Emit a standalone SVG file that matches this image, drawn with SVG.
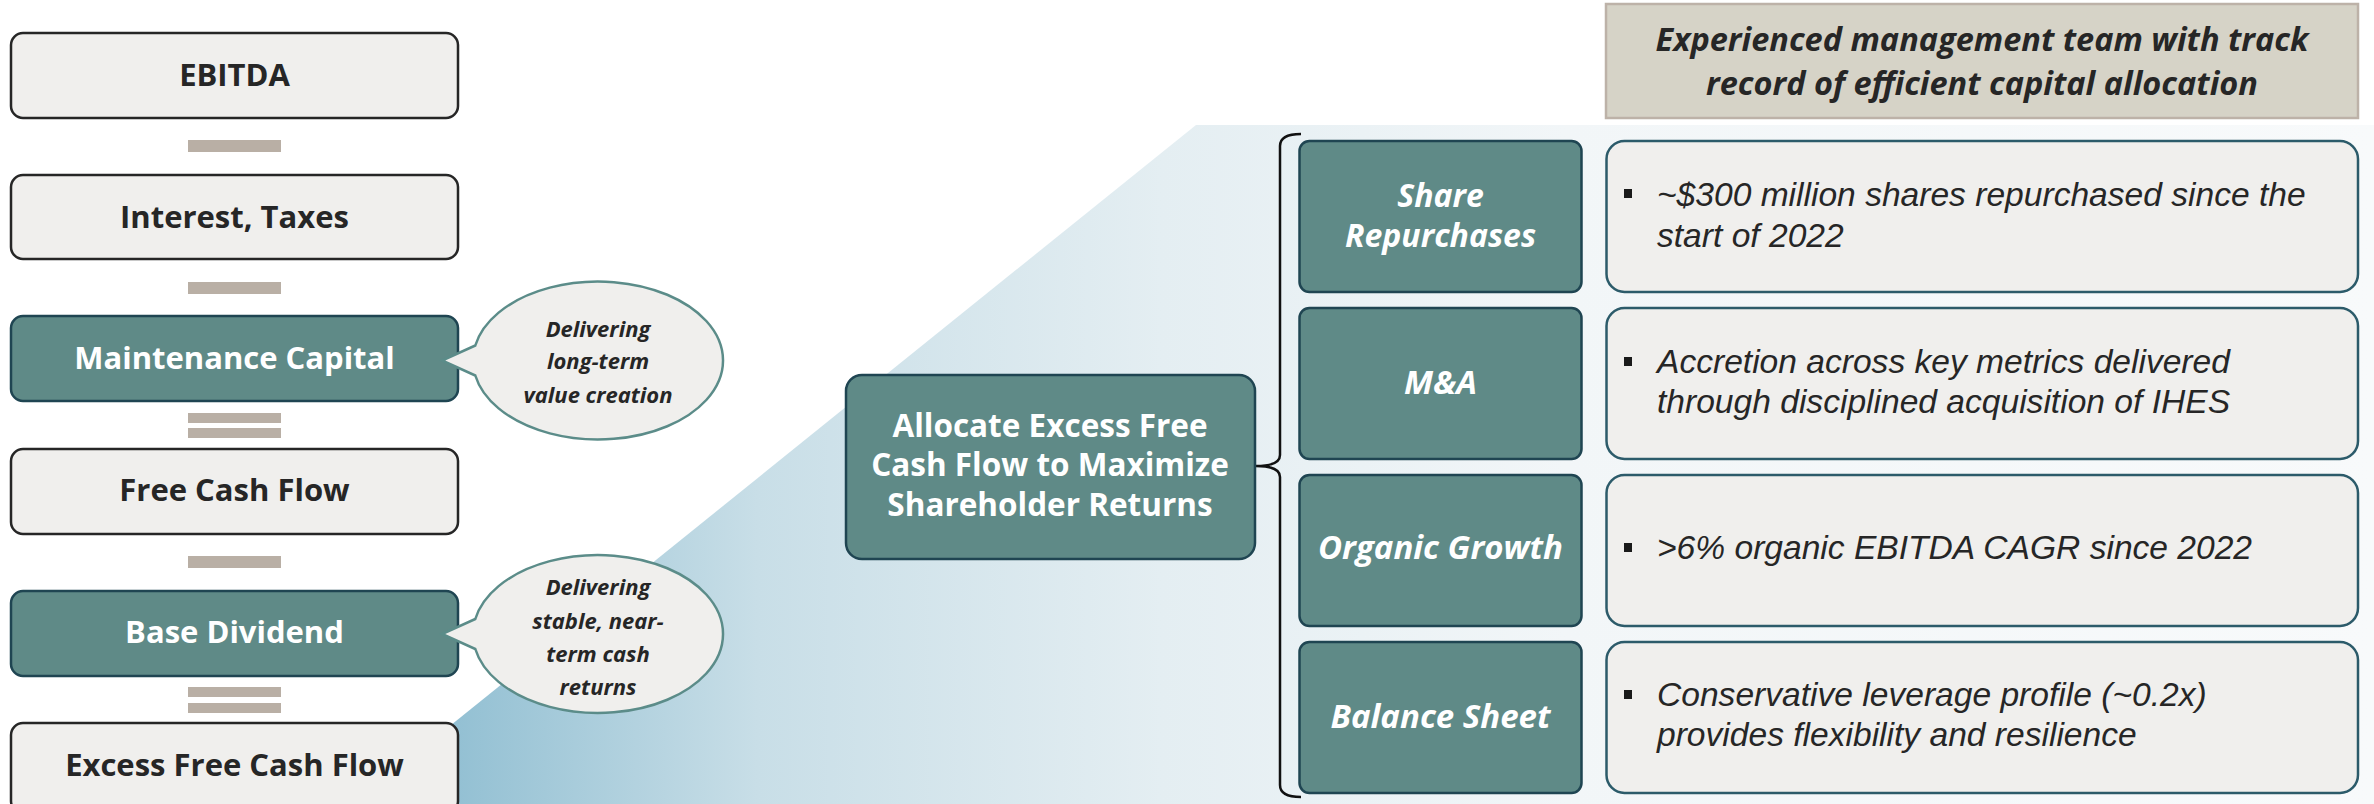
<svg xmlns="http://www.w3.org/2000/svg" width="2374" height="804" viewBox="0 0 2374 804">
<defs>
<linearGradient id="bg" gradientUnits="userSpaceOnUse" x1="353" y1="0" x2="2374" y2="0">
<stop offset="0" stop-color="#7fb4ca"/>
<stop offset="0.05" stop-color="#93c0d3"/>
<stop offset="0.2" stop-color="#c8dee7"/>
<stop offset="0.4" stop-color="#e4eef2"/>
<stop offset="0.6" stop-color="#f2f6f8"/>
<stop offset="1" stop-color="#f8fafb"/>
</linearGradient>
<style>
.lb{fill:#f0efed;stroke:#262626;stroke-width:2.5}
.tb{fill:#5f8a87;stroke:#1f4552;stroke-width:2.5}
.cb{fill:#f0efed;stroke:#2c5b6a;stroke-width:2.5}
.bar{fill:#b9afa5}
.bub{fill:#f0efed;stroke:#5b8c89;stroke-width:2.5}
.t{font-family:"Open Sans","Liberation Sans",sans-serif;font-weight:bold;text-anchor:middle}
.dk{fill:#262626}
.wh{fill:#ffffff}
.bi{font-family:"Open Sans","Liberation Sans",sans-serif;font-weight:bold;font-style:italic;text-anchor:middle}
.it{font-family:"Liberation Sans","Open Sans",sans-serif;font-style:italic;fill:#262626;font-size:33.6px}
.sq{fill:#1a1a1a}
</style>
</defs>
<rect x="0" y="0" width="2374" height="804" fill="#ffffff"/>
<polygon points="353,804 1196,125 2374,125 2374,804" fill="url(#bg)"/>

<g id="connectors">
<rect class="bar" x="188" y="140" width="93" height="12"/>
<rect class="bar" x="188" y="282" width="93" height="12"/>
<rect class="bar" x="188" y="413" width="93" height="10"/>
<rect class="bar" x="188" y="428" width="93" height="10"/>
<rect class="bar" x="188" y="556" width="93" height="12"/>
<rect class="bar" x="188" y="687" width="93" height="10"/>
<rect class="bar" x="188" y="703" width="93" height="10"/>
<path d="M1301,134 Q1280,134 1280,146 L1280,455 Q1280,466 1256,466 Q1280,466 1280,477 L1280,785 Q1280,797 1301,797" fill="none" stroke="#111111" stroke-width="2.5"/>
</g>

<g id="ebitda">
<rect class="lb" x="11" y="33" width="447" height="85" rx="12"/>
<text class="t dk" x="234.5" y="86" font-size="31">EBITDA</text>
</g>
<g id="interest-taxes">
<rect class="lb" x="11" y="175" width="447" height="84" rx="12"/>
<text class="t dk" x="234.5" y="228" font-size="31">Interest, Taxes</text>
</g>
<g id="maintenance-capital">
<rect class="tb" x="11" y="316" width="447" height="85" rx="12"/>
<text class="t wh" x="234.5" y="369" font-size="31">Maintenance Capital</text>
</g>
<g id="free-cash-flow">
<rect class="lb" x="11" y="449" width="447" height="85" rx="12"/>
<text class="t dk" x="234.5" y="501" font-size="31">Free Cash Flow</text>
</g>
<g id="base-dividend">
<rect class="tb" x="11" y="591" width="447" height="85" rx="12"/>
<text class="t wh" x="234.5" y="643" font-size="31">Base Dividend</text>
</g>
<g id="excess-free-cash-flow">
<rect class="lb" x="11" y="723" width="447" height="90" rx="12"/>
<text class="t dk" x="234.5" y="776" font-size="31">Excess Free Cash Flow</text>
</g>

<g id="bubble-long-term">
<path class="bub" d="M475.3,345.5 L442,360.5 L475.3,375.5 A125,79 0 1 0 475.3,345.5 Z"/>
<text class="bi dk" font-size="22" x="598" y="337">Delivering</text>
<text class="bi dk" font-size="22" x="598" y="369">long-term</text>
<text class="bi dk" font-size="22" x="598" y="403">value creation</text>
</g>
<g id="bubble-near-term">
<path class="bub" d="M475.3,619 L442,634 L475.3,649 A125,79 0 1 0 475.3,619 Z"/>
<text class="bi dk" font-size="22" x="598" y="595">Delivering</text>
<text class="bi dk" font-size="22" x="598" y="629">stable, near-</text>
<text class="bi dk" font-size="22" x="598" y="662">term cash</text>
<text class="bi dk" font-size="22" x="598" y="695">returns</text>
</g>

<g id="allocate">
<rect class="tb" x="846" y="375" width="409" height="184" rx="16"/>
<text class="t wh" font-size="31.5" x="1050" y="437">Allocate Excess Free</text>
<text class="t wh" font-size="31.5" x="1050" y="476">Cash Flow to Maximize</text>
<text class="t wh" font-size="31.5" x="1050" y="516">Shareholder Returns</text>
</g>

<g id="management-team">
<rect x="1606" y="4" width="752" height="114" fill="#d6d3c7" stroke="#bdb2a8" stroke-width="2.5"/>
<text class="bi dk" font-size="32.5" x="1982" y="51">Experienced management team with track</text>
<text class="bi dk" font-size="32.5" x="1982" y="95">record of efficient capital allocation</text>
</g>

<g id="share-repurchases">
<rect class="tb" x="1299.5" y="141" width="282" height="151" rx="10"/>
<text class="bi wh" font-size="32" x="1440.5" y="207">Share</text>
<text class="bi wh" font-size="32" x="1440.5" y="247">Repurchases</text>
</g>
<g id="share-repurchases-detail">
<rect class="cb" x="1606.5" y="141" width="751.5" height="151" rx="18"/>
<rect class="sq" x="1624" y="189" width="8" height="9"/>
<text class="it" x="1657" y="206">~$300 million shares repurchased since the</text>
<text class="it" x="1657" y="247">start of 2022</text>
</g>

<g id="m-and-a">
<rect class="tb" x="1299.5" y="308" width="282" height="151" rx="10"/>
<text class="bi wh" font-size="33" x="1440.5" y="394">M&amp;A</text>
</g>
<g id="m-and-a-detail">
<rect class="cb" x="1606.5" y="308" width="751.5" height="151" rx="18"/>
<rect class="sq" x="1624" y="357" width="8" height="9"/>
<text class="it" x="1657" y="373">Accretion across key metrics delivered</text>
<text class="it" x="1657" y="413">through disciplined acquisition of IHES</text>
</g>

<g id="organic-growth">
<rect class="tb" x="1299.5" y="475" width="282" height="151" rx="10"/>
<text class="bi wh" font-size="33" x="1440.5" y="559">Organic Growth</text>
</g>
<g id="organic-growth-detail">
<rect class="cb" x="1606.5" y="475" width="751.5" height="151" rx="18"/>
<rect class="sq" x="1624" y="543" width="8" height="9"/>
<text class="it" x="1657" y="559">&gt;6% organic EBITDA CAGR since 2022</text>
</g>

<g id="balance-sheet">
<rect class="tb" x="1299.5" y="642" width="282" height="151" rx="10"/>
<text class="bi wh" font-size="33" x="1440.5" y="728">Balance Sheet</text>
</g>
<g id="balance-sheet-detail">
<rect class="cb" x="1606.5" y="642" width="751.5" height="151" rx="18"/>
<rect class="sq" x="1624" y="690" width="8" height="9"/>
<text class="it" x="1657" y="706">Conservative leverage profile (~0.2x)</text>
<text class="it" x="1657" y="746">provides flexibility and resilience</text>
</g>
</svg>
